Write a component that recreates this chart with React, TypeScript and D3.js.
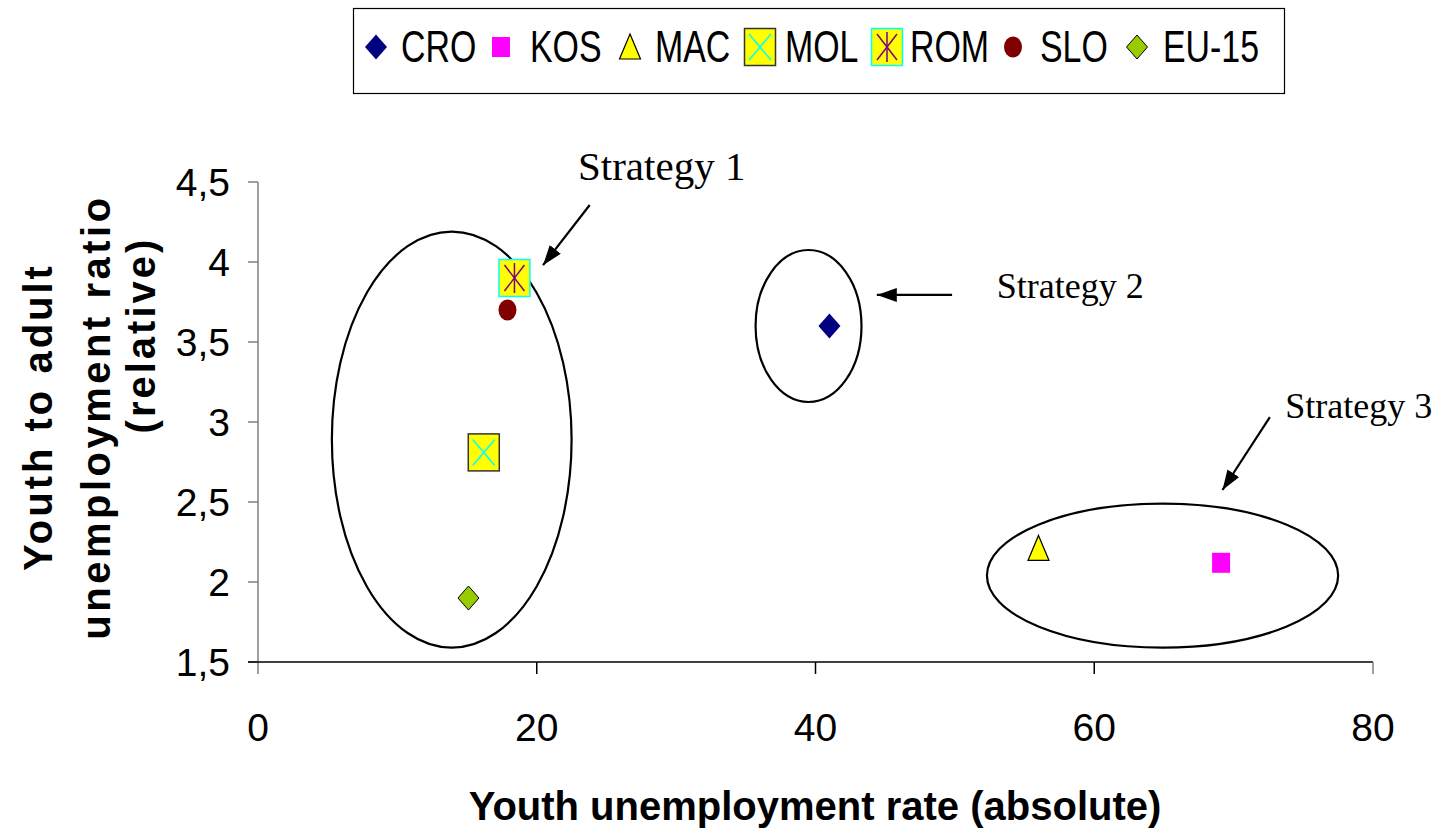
import React from 'react';
import * as d3 from 'd3';

// ---- data ----
const countries = ['CRO', 'KOS', 'MAC', 'MOL', 'ROM', 'SLO', 'EU-15'];
const youthRate = [41.0, 69.1, 56.0, 16.2, 18.4, 17.9, 15.1];
const youthAdultRatio = [3.6, 2.12, 2.21, 2.81, 3.9, 3.7, 1.9];

const xTicks = [0, 20, 40, 60, 80];
const xTickLabels = ['0', '20', '40', '60', '80'];
const yTicks = [1.5, 2, 2.5, 3, 3.5, 4, 4.5];
const yTickLabels = ['1,5', '2', '2,5', '3', '3,5', '4', '4,5'];

// strategy groups (ellipses in data units)
const strategyNames = ['Strategy 1', 'Strategy 2', 'Strategy 3'];
const groupCx = [13.9, 39.5, 64.9];
const groupCy = [2.89, 3.6, 2.04];
const groupRx = [8.6, 3.8, 12.6];
const groupRy = [1.3, 0.475, 0.45];
// arrows (data units): from -> to
const arrowX1 = [23.8, 49.8, 72.6];
const arrowY1 = [4.356, 3.794, 3.031];
const arrowX2 = [20.45, 44.4, 69.2];
const arrowY2 = [3.98, 3.794, 2.575];
// label anchor (data units, left/baseline)
const labelX = [22.96, 53.0, 73.7];
const labelY = [4.512, 3.776, 3.028];

const W = 1443;
const H = 834;

const x = d3.scaleLinear().domain([0, 80]).range([258, 1373]);
const y = d3.scaleLinear().domain([1.5, 4.5]).range([662, 182]);

function Marker({ name, cx, cy }: { name: string; cx: number; cy: number }) {
  switch (name) {
    case 'CRO':
      return <path d={`M${cx},${cy - 12.5}L${cx + 11},${cy}L${cx},${cy + 12.5}L${cx - 11},${cy}Z`} fill="#000080" />;
    case 'KOS':
      return <rect x={cx - 9} y={cy - 10} width={18} height={20} fill="#FF00FF" />;
    case 'MAC':
      return <path d={`M${cx},${cy - 13}L${cx + 10.5},${cy + 12}L${cx - 10.5},${cy + 12}Z`} fill="#FFFF00" stroke="#000" strokeWidth={1.2} />;
    case 'MOL':
      return (
        <g>
          <rect x={cx - 15.5} y={cy - 18.5} width={31} height={37} fill="#FFFF00" stroke="#333" strokeWidth={1.5} />
          <line x1={cx - 11} y1={cy - 13} x2={cx + 11} y2={cy + 13} stroke="#00FFFF" strokeWidth={1.5} />
          <line x1={cx + 11} y1={cy - 13} x2={cx - 11} y2={cy + 13} stroke="#00FFFF" strokeWidth={1.5} />
        </g>
      );
    case 'ROM':
      return (
        <g>
          <rect x={cx - 15.5} y={cy - 18.5} width={31} height={37} fill="#FFFF00" stroke="#00FFFF" strokeWidth={1.5} />
          <line x1={cx - 10} y1={cy - 13} x2={cx + 10} y2={cy + 13} stroke="#800080" strokeWidth={1.5} />
          <line x1={cx + 10} y1={cy - 13} x2={cx - 10} y2={cy + 13} stroke="#800080" strokeWidth={1.5} />
          <line x1={cx} y1={cy - 15} x2={cx} y2={cy + 15} stroke="#800080" strokeWidth={1.5} />
        </g>
      );
    case 'SLO':
      return <ellipse cx={cx} cy={cy} rx={9} ry={10.5} fill="#800000" />;
    default:
      return <path d={`M${cx},${cy - 12}L${cx + 10.5},${cy}L${cx},${cy + 12}L${cx - 10.5},${cy}Z`} fill="#99CC00" stroke="#000" strokeWidth={1} />;
  }
}

// legend layout (pixels)
const legendMarkerX = [376, 501, 630, 760, 887, 1013, 1137];
const legendTextX = [401, 530, 655, 785, 910, 1040, 1163];

export default function App() {
  const sans = 'Arial, "Liberation Sans", sans-serif';
  const serif = '"Times New Roman", "Liberation Serif", serif';
  return (
    <svg width={W} height={H} style={{ position: 'absolute', left: 0, top: 0, background: '#fff' }}>
      <defs>
        <marker id="ah" viewBox="0 0 20 14" refX={20} refY={7} markerWidth={20} markerHeight={14} markerUnits="userSpaceOnUse" orient="auto">
          <path d="M0,0L20,7L0,14Z" fill="#000" />
        </marker>
      </defs>
      <rect x={0} y={0} width={W} height={H} fill="#fff" />

      {/* legend */}
      <rect x={353.5} y={8.5} width={931} height={85} fill="#fff" stroke="#000" strokeWidth={1.2} />
      {countries.map((c, i) => (
        <g key={c}>
          <Marker name={c} cx={legendMarkerX[i]} cy={47} />
          <text transform={`translate(${legendTextX[i]},62) scale(0.77,1)`} fontFamily={sans} fontSize={44} fill="#000">{c}</text>
        </g>
      ))}

      {/* axes */}
      <line x1={x(0)} y1={y(4.5)} x2={x(0)} y2={y(1.5) + 12} stroke="#808080" strokeWidth={1.5} />
      {yTicks.map((t) => (
        <line key={t} x1={x(0) - 10} y1={y(t)} x2={x(0)} y2={y(t)} stroke="#808080" strokeWidth={1.5} />
      ))}
      <line x1={x(0) - 10} y1={y(1.5)} x2={x(80)} y2={y(1.5)} stroke="#000" strokeWidth={1.5} />
      {xTicks.slice(1).map((t) => (
        <line key={t} x1={x(t)} y1={y(1.5)} x2={x(t)} y2={y(1.5) + 12} stroke={t === 80 ? '#808080' : '#000'} strokeWidth={1.5} />
      ))}
      {yTicks.map((t, i) => (
        <text key={t} x={230} y={y(t) + 14} textAnchor="end" fontFamily={sans} fontSize={39} fill="#000">{yTickLabels[i]}</text>
      ))}
      {xTicks.map((t, i) => (
        <text key={t} x={x(t)} y={741} textAnchor="middle" fontFamily={sans} fontSize={39} fill="#000">{xTickLabels[i]}</text>
      ))}

      {/* axis titles */}
      <text x={815} y={820} textAnchor="middle" fontFamily={sans} fontWeight="bold" fontSize={40} fill="#000">Youth unemployment rate (absolute)</text>
      <g transform="translate(52,417) rotate(-90)">
        <text x={0} y={0} textAnchor="middle" fontFamily={sans} fontWeight="bold" fontSize={40} letterSpacing={3} fill="#000">Youth to adult</text>
      </g>
      <g transform="translate(110,417) rotate(-90)">
        <text x={0} y={0} textAnchor="middle" fontFamily={sans} fontWeight="bold" fontSize={40} letterSpacing={3.5} fill="#000">unemployment ratio</text>
      </g>
      <g transform="translate(155,335) rotate(-90)">
        <text x={0} y={0} textAnchor="middle" fontFamily={sans} fontWeight="bold" fontSize={40} letterSpacing={3} fill="#000">(relative)</text>
      </g>

      {/* ellipses */}
      {strategyNames.map((s, i) => (
        <ellipse key={s} cx={x(groupCx[i])} cy={y(groupCy[i])} rx={x(groupRx[i]) - x(0)} ry={y(1.5) - y(1.5 + groupRy[i])} fill="none" stroke="#000" strokeWidth={2.2} />
      ))}

      {/* points */}
      {countries.map((c, i) => (
        <Marker key={c} name={c} cx={x(youthRate[i])} cy={y(youthAdultRatio[i])} />
      ))}

      {/* arrows and labels */}
      {strategyNames.map((s, i) => (
        <g key={s}>
          <line x1={x(arrowX1[i])} y1={y(arrowY1[i])} x2={x(arrowX2[i])} y2={y(arrowY2[i])} stroke="#000" strokeWidth={2.2} markerEnd="url(#ah)" />
          <text x={x(labelX[i])} y={y(labelY[i])} fontFamily={serif} fontSize={i === 0 ? 41 : 36} fill="#000">{s}</text>
        </g>
      ))}
    </svg>
  );
}
